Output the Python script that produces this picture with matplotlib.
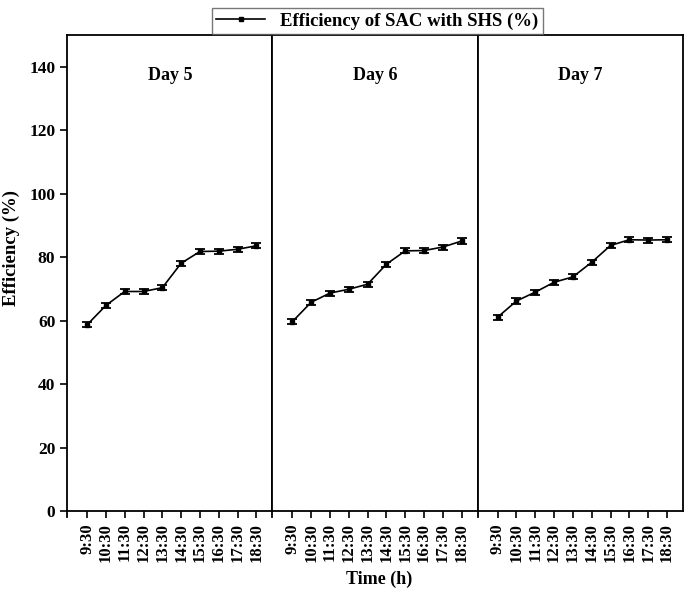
import matplotlib.pyplot as plt
from matplotlib.lines import Line2D

times = ["9:30", "10:30", "11:30", "12:30", "13:30",
         "14:30", "15:30", "16:30", "17:30", "18:30"]
days = ["Day 5", "Day 6", "Day 7"]

day5 = [58.7, 64.8, 69.2, 69.2, 70.4, 78.1, 81.8, 81.9, 82.5, 83.6]
day6 = [59.7, 65.8, 68.7, 69.9, 71.5, 77.8, 82.0, 82.1, 83.2, 85.1]
day7 = [61.1, 66.2, 69.0, 72.1, 73.8, 78.4, 83.7, 85.5, 85.4, 85.5]
err = [0.8] * 10

yticks = [0, 20, 40, 60, 80, 100, 120, 140]

plt.rcParams.update({
    "font.family": "Liberation Serif",
    "font.weight": "bold",
    "axes.linewidth": 1.3,
})

fig, axes = plt.subplots(1, 3, figsize=(6.85, 5.93), dpi=100, sharey=True)
fig.subplots_adjust(left=0.098, right=0.997, top=0.941, bottom=0.138, wspace=0)

x = list(range(len(times)))
for ax, label, vals in zip(axes, days, [day5, day6, day7]):
    ax.errorbar(x, vals, yerr=err, color="black", linewidth=1.2,
                marker="s", markersize=3, capsize=3.5, capthick=1.3,
                elinewidth=1.3)
    ax.set_xlim(-1.06, 9.85)
    ax.set_ylim(0, 150)
    ax.set_xticks(x)
    ax.set_xticklabels(times, rotation=90, fontsize=12, fontweight="bold")
    ax.tick_params(axis="x", direction="out", length=5, width=1.2)
    ax.text(0.5, 0.915, label, transform=ax.transAxes, ha="center",
            va="center", fontsize=13, fontweight="bold")
    ax.add_line(Line2D([0, 0], [0, -0.012], transform=ax.transAxes,
                       color="black", linewidth=1.3, clip_on=False))

axes[0].set_yticks(yticks)
axes[0].tick_params(axis="y", direction="out", length=5, width=1.2,
                    labelsize=12.5)
for lab in axes[0].get_yticklabels():
    lab.set_fontweight("bold")
for ax in axes[1:]:
    ax.tick_params(axis="y", left=False, labelleft=False)

axes[0].set_ylabel("Efficiency (%)", fontsize=13.5, fontweight="bold")
axes[0].yaxis.set_label_coords(-0.228, 0.553)
fig.text(0.553, 0.015, "Time (h)", ha="center", fontsize=13, fontweight="bold")

proxy = Line2D([], [], color="black", linewidth=1.2, marker="s", markersize=3)
fig.legend([proxy], ["Efficiency of SAC with SHS (%)"], loc="upper center",
           bbox_to_anchor=(0.551, 1.003), frameon=True,
           fancybox=False, edgecolor="#555555", handlelength=2.6,
           borderpad=0.25, prop={"weight": "bold", "size": 13.5})

fig.savefig("out.png", dpi=100, facecolor="white")
